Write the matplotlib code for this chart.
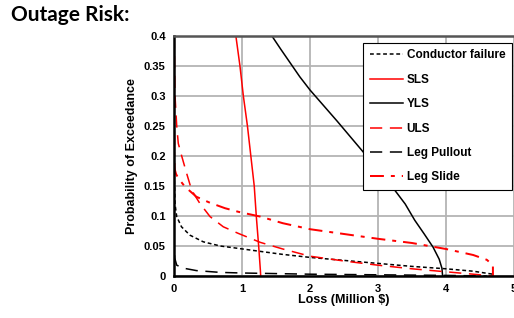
import numpy as np
import matplotlib
matplotlib.use('Agg')
import matplotlib.pyplot as plt

plt.rcParams['font.family'] = ['Liberation Sans', 'DejaVu Sans']

# Loss (Million $) vs probability of exceedance
cond_x = [0.0, 0.005, 0.015, 0.04, 0.11, 0.235, 0.43, 0.68, 0.946, 1.27, 1.6, 2.0,
          2.5, 3.0, 3.5, 4.0, 4.4, 4.69, 4.7]
cond_p = [0.4, 0.16, 0.12, 0.099, 0.082, 0.068, 0.057, 0.05, 0.046, 0.041, 0.036, 0.031,
          0.026, 0.021, 0.016, 0.012, 0.008, 0.003, 0.0]

sls_x = [0.91, 0.97, 1.02, 1.08, 1.13, 1.18, 1.21, 1.245, 1.27, 1.275]
sls_p = [0.4, 0.35, 0.3, 0.25, 0.2, 0.15, 0.1, 0.05, 0.01, 0.0]

yls_x = [1.44, 1.57, 1.71, 1.85, 2.0, 2.4, 2.78, 3.0, 3.22, 3.4, 3.54, 3.68, 3.81, 3.9,
         3.94, 3.95]
yls_p = [0.4, 0.378, 0.355, 0.332, 0.31, 0.258, 0.207, 0.177, 0.147, 0.12, 0.093, 0.07,
         0.048, 0.028, 0.013, 0.0]

uls_x = [0.003, 0.008, 0.015, 0.04, 0.063, 0.113, 0.186, 0.26, 0.38, 0.53, 0.725, 0.946,
         1.27, 1.6, 2.0, 2.5, 3.0, 3.5, 4.0, 4.4, 4.69]
uls_p = [0.4, 0.35, 0.3, 0.25, 0.221, 0.2, 0.171, 0.143, 0.121, 0.099, 0.082, 0.071,
         0.056, 0.045, 0.033, 0.025, 0.018, 0.012, 0.007, 0.003, 0.0]

pull_x = [0.0, 0.003, 0.01, 0.04, 0.14, 0.33, 0.68, 1.0, 2.0, 3.0, 4.0, 4.6]
pull_p = [0.2, 0.05, 0.03, 0.018, 0.013, 0.009, 0.006, 0.005, 0.003, 0.002, 0.001, 0.0]

slide_x = [0.0, 0.003, 0.01, 0.03, 0.063, 0.16, 0.33, 0.53, 0.75, 0.946, 1.27, 1.6, 2.0,
           2.5, 3.0, 3.5, 4.0, 4.4, 4.6, 4.69, 4.69]
slide_p = [0.4, 0.2, 0.178, 0.17, 0.163, 0.149, 0.132, 0.122, 0.113, 0.107, 0.099, 0.088,
           0.078, 0.07, 0.062, 0.055, 0.045, 0.035, 0.027, 0.018, 0.0]

x_ticks = [0, 1, 2, 3, 4, 5]
y_ticks = [0, 0.05, 0.1, 0.15, 0.2, 0.25, 0.3, 0.35, 0.4]
y_labels = ['0', '0.05', '0.1', '0.15', '0.2', '0.25', '0.3', '0.35', '0.4']

fig = plt.figure(figsize=(5.14, 3.18), dpi=100)
ax = fig.add_axes([174/514, 42/318, 340/514, 240/318])

lw = 1.1
ax.plot(cond_x, cond_p, color='black', lw=lw, dashes=(2.5, 1.8), label='Conductor failure')
ax.plot(sls_x, sls_p, color='red', lw=lw, label='SLS')
ax.plot(yls_x, yls_p, color='black', lw=lw, label='YLS')
ax.plot(uls_x, uls_p, color='red', lw=lw, dashes=(8, 5), label='ULS')
ax.plot(pull_x, pull_p, color='black', lw=lw, dashes=(8, 5), label='Leg Pullout')
ax.plot(slide_x, slide_p, color='red', lw=lw * 1.3, dashes=(7, 3.5, 2, 3.5), label='Leg Slide')

ax.set_xlim(0, 5)
ax.set_ylim(0, 0.4)
ax.set_xticks(x_ticks)
ax.set_yticks(y_ticks)
ax.set_yticklabels(y_labels)
ax.tick_params(length=0, labelsize=8, pad=6)
for lab in ax.get_xticklabels() + ax.get_yticklabels():
    lab.set_fontweight('bold')
ax.grid(True, color='#b4b4b4', lw=1.3)
ax.set_axisbelow(True)

ax.spines['top'].set_color('#555555')
ax.spines['top'].set_linewidth(1.8)
ax.spines['left'].set_linewidth(1.8)
ax.spines['bottom'].set_linewidth(1.8)
ax.spines['right'].set_visible(False)

ax.set_xlabel('Loss (Million $)', fontsize=9, fontweight='bold', labelpad=0)
ax.set_ylabel('Probability of Exceedance', fontsize=9, fontweight='bold', labelpad=4)

leg = ax.legend(loc='upper left', bbox_to_anchor=(0.556, 0.971), borderaxespad=0,
                prop={'weight': 'bold', 'size': 8.5}, fancybox=False, framealpha=1,
                edgecolor='black', labelspacing=1.05, handlelength=2.8,
                handletextpad=0.35, borderpad=0.55)
leg.get_frame().set_linewidth(0.8)

fig.text(11/514, 0.985, 'Outage Risk:', fontsize=15, fontweight='bold',
         family=['Lato', 'DejaVu Sans'], va='top', ha='left')

fig.savefig('out.png', dpi=100)
